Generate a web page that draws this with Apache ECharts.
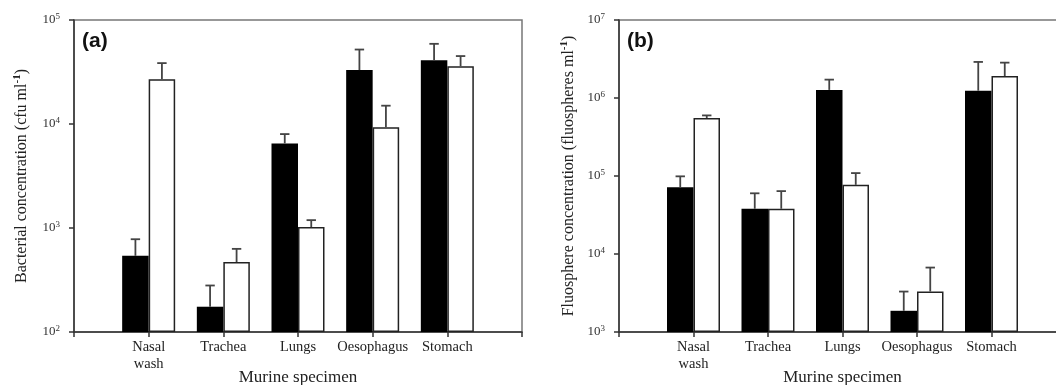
<!DOCTYPE html>
<html>
<head>
<meta charset="utf-8">
<script src="https://cdn.jsdelivr.net/npm/echarts@6/dist/echarts.min.js"></script>
<style>
  html, body { margin: 0; padding: 0; background: #fff; }
  #chart { width: 1056px; height: 385px; }
</style>
</head>
<body>
<div id="chart"></div>
<script>
// specimens (empty slots at both ends so ticks sit at 0..6)
var categories = ['', 'Nasal\nwash', 'Trachea', 'Lungs', 'Oesophagus', 'Stomach', '']

// panel (a) bacterial concentration, cfu/ml
var aBlack = [540, 175, 6500, 33000, 41000]
var aBlackTop = [780, 280, 8000, 52000, 59000]
var aWhite = [27000, 470, 1020, 9300, 36000]
var aWhiteTop = [38500, 630, 1190, 15000, 45000]

// panel (b) fluosphere concentration, fluospheres/ml
var bBlack = [72000, 38000, 1270000, 1870, 1240000]
var bBlackTop = [99000, 60000, 1720000, 3300, 2900000]
var bWhite = [554000, 38000, 77000, 3300, 1910000]
var bWhiteTop = [598000, 64000, 109000, 6700, 2840000]

var BAR_W = 26.5
var serif = '"Liberation Serif", "DejaVu Serif", serif'

function padded(arr) {
  return ['-'].concat(arr).concat(['-'])
}

function errData(vals, tops) {
  return vals.map(function (v, i) { return [i + 1, v, tops[i]] })
}

function errSeries(gridIdx, vals, tops, side) {
  return {
    type: 'custom',
    xAxisIndex: gridIdx,
    yAxisIndex: gridIdx,
    z: 5,
    silent: true,
    encode: { x: 0, y: [1, 2] },
    data: errData(vals, tops),
    renderItem: function (params, api) {
      var p0 = api.coord([api.value(0), api.value(1)])
      var p1 = api.coord([api.value(0), api.value(2)])
      var x = p0[0] + side * BAR_W / 2
      var st = { stroke: '#444', lineWidth: 1.8 }
      return {
        type: 'group',
        children: [
          { type: 'line', shape: { x1: x, y1: p0[1], x2: x, y2: p1[1] }, style: st },
          { type: 'line', shape: { x1: x - 4.7, y1: p1[1], x2: x + 4.7, y2: p1[1] }, style: st }
        ]
      }
    }
  }
}

function supLabel(v) {
  return '10{s|' + Math.round(Math.log10(v)) + '}'
}

function xAxisOpt(gridIdx) {
  return {
    type: 'category',
    gridIndex: gridIdx,
    data: categories,
    boundaryGap: false,
    name: 'Murine specimen',
    nameLocation: 'middle',
    nameGap: 37,
    nameMoveOverlap: false,
    nameTextStyle: { fontFamily: serif, fontSize: 17, color: '#222' },
    axisLine: { lineStyle: { color: '#333', width: 1.5 } },
    axisTick: { length: 5, lineStyle: { color: '#333', width: 1.5 }, interval: 0 },
    axisLabel: { interval: 0, fontFamily: serif, fontSize: 14.5, color: '#222', margin: 7, lineHeight: 17 },
    splitLine: { show: false }
  }
}

function yAxisOpt(gridIdx, min, max, title, gap) {
  return {
    type: 'log',
    logBase: 10,
    gridIndex: gridIdx,
    min: min,
    max: max,
    startValue: min,
    name: title,
    nameLocation: 'middle',
    nameGap: gap,
    nameTextStyle: {
      fontFamily: serif, fontSize: 16, color: '#222',
      rich: { s: { fontFamily: serif, fontSize: 11, fontWeight: 'bold', padding: [0, 0, 9, 0] } }
    },
    axisLine: { show: true, lineStyle: { color: '#333', width: 1.5 } },
    axisTick: { show: true, length: 5, lineStyle: { color: '#333', width: 1.5 } },
    minorTick: { show: false },
    splitLine: { show: false },
    axisLabel: {
      formatter: supLabel,
      fontFamily: serif, fontSize: 13, color: '#333', margin: 14,
      rich: { s: { fontFamily: serif, fontSize: 9, color: '#333', padding: [0, 0, 7, 0] } }
    }
  }
}

function barSeries(gridIdx, vals, dark) {
  return {
    type: 'bar',
    xAxisIndex: gridIdx,
    yAxisIndex: gridIdx,
    data: padded(vals),
    barWidth: BAR_W,
    barGap: '0%',
    clip: true,
    silent: true,
    itemStyle: dark
      ? { color: '#000' }
      : { color: '#fff', borderColor: '#222', borderWidth: 1.5 }
  }
}

var chart = echarts.init(document.getElementById('chart'))
var option = {
  animation: false,
  backgroundColor: '#fff',
  grid: [
    { left: 74, top: 20, width: 448, height: 312, outerBoundsMode: 'none', show: true, borderColor: '#777', borderWidth: 1.5 },
    { left: 619, top: 20, width: 447, height: 312, outerBoundsMode: 'none', show: true, borderColor: '#777', borderWidth: 1.5 }
  ],
  xAxis: [xAxisOpt(0), xAxisOpt(1)],
  yAxis: [
    yAxisOpt(0, 100, 100000, 'Bacterial concentration (cfu ml{s|-1})', 42),
    yAxisOpt(1, 1000, 10000000, 'Fluosphere concentration (fluospheres ml{s|-1})', 40)
  ],
  graphic: [
    { type: 'text', left: 82, top: 31, style: { text: '(a)', font: 'bold 21px "Liberation Sans", Arial, sans-serif', fill: '#111' } },
    { type: 'text', left: 627, top: 31, style: { text: '(b)', font: 'bold 21px "Liberation Sans", Arial, sans-serif', fill: '#111' } }
  ],
  series: [
    barSeries(0, aBlack, true),
    barSeries(0, aWhite, false),
    errSeries(0, aBlack, aBlackTop, -1),
    errSeries(0, aWhite, aWhiteTop, 1),
    barSeries(1, bBlack, true),
    barSeries(1, bWhite, false),
    errSeries(1, bBlack, bBlackTop, -1),
    errSeries(1, bWhite, bWhiteTop, 1)
  ]
}
chart.setOption(option)
</script>
</body>
</html>
